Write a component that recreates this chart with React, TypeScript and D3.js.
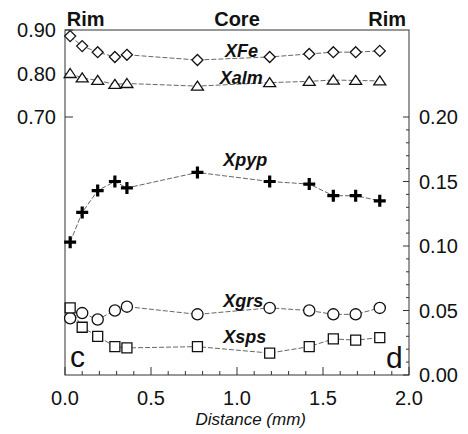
import React from "react";
import * as d3 from "d3";

// Distance from rim (mm) of each analysed spot
const distance = [0.03, 0.10, 0.19, 0.29, 0.36, 0.77, 1.19, 1.42, 1.56, 1.69, 1.83];
// Left-axis end-members
const xFe = [0.886, 0.863, 0.849, 0.838, 0.843, 0.831, 0.838, 0.845, 0.849, 0.849, 0.852];
const xAlm = [0.800, 0.790, 0.784, 0.775, 0.777, 0.771, 0.779, 0.782, 0.785, 0.784, 0.783];
// Right-axis end-members
const xPyp = [0.103, 0.126, 0.143, 0.150, 0.145, 0.157, 0.150, 0.148, 0.139, 0.139, 0.135];
const xGrs = [0.044, 0.048, 0.043, 0.050, 0.053, 0.047, 0.052, 0.050, 0.047, 0.047, 0.052];
const xSps = [0.052, 0.037, 0.030, 0.022, 0.021, 0.022, 0.017, 0.022, 0.028, 0.027, 0.029];

const xTicks = [0, 0.5, 1.0, 1.5, 2.0];
const leftTicks = [0.9, 0.8, 0.7];
const rightTicks = [0, 0.05, 0.1, 0.15, 0.2];

const W = 468;
const H = 434;
const L = 65, R = 409, T = 30, B = 375;
const FONT = "'Liberation Sans', Arial, Helvetica, sans-serif";

const x = d3.scaleLinear().domain([0, 2]).range([L, R]);
const yLeft = d3.scaleLinear().domain([0.7, 0.9]).range([117, T]);
const yRight = d3.scaleLinear().domain([0, 0.2]).range([B, 117]);

type Marker = "diamond" | "triangle" | "cross" | "circle" | "square";

const markerPath: Record<Marker, string> = {
  diamond: "M0,-5.5L5.5,0L0,5.5L-5.5,0Z",
  triangle: "M0,-5L6,4L-6,4Z",
  cross: "M-6,0H6M0,-6V6",
  circle: d3.symbol().type(d3.symbolCircle).size(Math.PI * 5.6 * 5.6)() as string,
  square: "M-5,-5H5V5H-5Z",
};

interface Series {
  values: number[];
  scale: d3.ScaleLinear<number, number>;
  marker: Marker;
}

const series: Series[] = [
  { values: xFe, scale: yLeft, marker: "diamond" },
  { values: xAlm, scale: yLeft, marker: "triangle" },
  { values: xPyp, scale: yRight, marker: "cross" },
  { values: xGrs, scale: yRight, marker: "circle" },
  { values: xSps, scale: yRight, marker: "square" },
];

const labels = [
  { text: "XFe", x: 0.93, y: yLeft(0.837) },
  { text: "Xalm", x: 0.9, y: yLeft(0.775) },
  { text: "Xpyp", x: 0.92, y: yRight(0.162) },
  { text: "Xgrs", x: 0.92, y: yRight(0.053) },
  { text: "Xsps", x: 0.92, y: yRight(0.025) },
];

export default function App() {
  const minorX = d3.range(0, 2.0001, 0.1);
  const minorR = d3.range(0, 0.2001, 0.01);

  return (
    <svg
      width={W}
      height={H}
      style={{ position: "absolute", left: 0, top: 0, background: "#fff" }}
      fontFamily={FONT}
    >
      {/* frame */}
      <rect x={L} y={T} width={R - L} height={B - T} fill="none" stroke="#333" strokeWidth={1} />

      {/* bottom axis ticks */}
      {minorX.map((v, i) => (
        <line key={"mx" + i} x1={x(v)} x2={x(v)} y1={B} y2={B - (i % 5 === 0 ? 8 : 4)} stroke="#333" strokeWidth={1} />
      ))}
      {xTicks.map((v) => (
        <text key={"xt" + v} x={x(v)} y={405} fontSize={20} textAnchor="middle" fill="#111">
          {d3.format(".1f")(v)}
        </text>
      ))}
      <text x={x(1.08)} y={425} fontSize={17} fontStyle="italic" textAnchor="middle" fill="#111">
        Distance (mm)
      </text>

      {/* left axis */}
      {leftTicks.map((v) => (
        <g key={"lt" + v}>
          <line x1={L} x2={L + 8} y1={yLeft(v)} y2={yLeft(v)} stroke="#333" strokeWidth={1} />
          <text x={56} y={yLeft(v)} dy="0.36em" fontSize={20} textAnchor="end" fill="#111">
            {d3.format(".2f")(v)}
          </text>
        </g>
      ))}

      {/* right axis */}
      {minorR.map((v, i) => (
        <line key={"mr" + i} x1={R} x2={R - (i % 5 === 0 ? 6 : 3)} y1={yRight(v)} y2={yRight(v)} stroke="#333" strokeWidth={1} />
      ))}
      {rightTicks.map((v) => (
        <text key={"rt" + v} x={419} y={yRight(v)} dy="0.36em" fontSize={20} textAnchor="start" fill="#111">
          {d3.format(".2f")(v)}
        </text>
      ))}

      {/* rim / core annotations */}
      <text x={x(0.01)} y={26} fontSize={20} fontWeight="bold" fill="#111">Rim</text>
      <text x={x(1.0)} y={26} fontSize={20} fontWeight="bold" textAnchor="middle" fill="#111">Core</text>
      <text x={R - 3} y={26} fontSize={20} fontWeight="bold" textAnchor="end" fill="#111">Rim</text>

      {/* series lines */}
      {series.map((s, k) => {
        const line = d3
          .line<number>()
          .x((_, i) => x(distance[i]))
          .y((v) => s.scale(v));
        return (
          <path key={"ln" + k} d={line(s.values) as string} fill="none" stroke="#555" strokeWidth={0.9} strokeDasharray="5,2" />
        );
      })}

      {/* series markers */}
      {series.map((s, k) =>
        s.values.map((v, i) =>
          s.marker === "cross" ? (
            <path
              key={"mk" + k + "-" + i}
              transform={`translate(${x(distance[i])},${s.scale(v)})`}
              d={markerPath.cross}
              stroke="#000"
              strokeWidth={3.2}
              fill="none"
            />
          ) : (
            <path
              key={"mk" + k + "-" + i}
              transform={`translate(${x(distance[i])},${s.scale(v)})`}
              d={markerPath[s.marker]}
              stroke="#111"
              strokeWidth={1.3}
              fill="#fff"
            />
          )
        )
      )}

      {/* series labels */}
      {labels.map((l) => (
        <text key={l.text} x={x(l.x)} y={l.y} fontSize={18} fontWeight="bold" fontStyle="italic" fill="#111">
          {l.text}
        </text>
      ))}

      {/* panel letters */}
      <text x={70} y={367} fontSize={30} fill="#111">c</text>
      <text x={386} y={368} fontSize={30} fill="#111">d</text>
    </svg>
  );
}
